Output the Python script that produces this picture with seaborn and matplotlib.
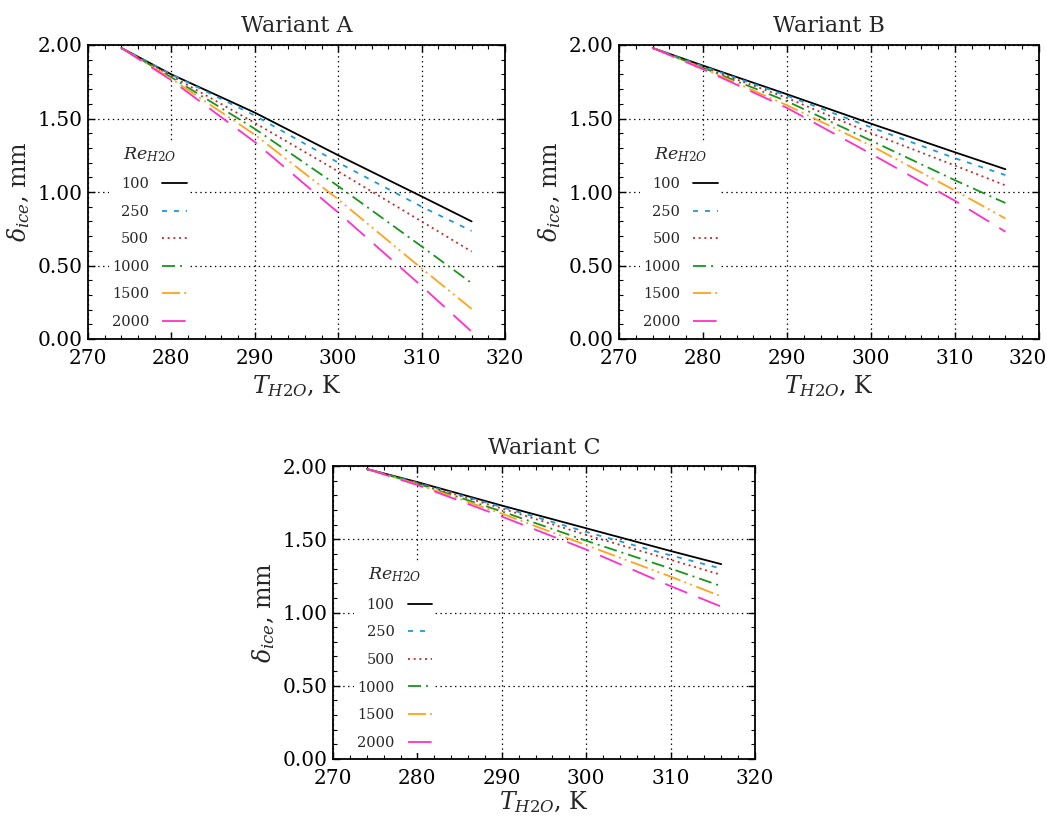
import numpy as np
import pandas as pd
import matplotlib
matplotlib.use("Agg")
import matplotlib.pyplot as plt
from matplotlib.ticker import MultipleLocator, FormatStrFormatter
from matplotlib.transforms import ScaledTranslation
import seaborn as sns

# ---------------- data ----------------
T_H2O = [274, 280, 290, 300, 310, 316]
re_levels = ["100", "250", "500", "1000", "1500", "2000"]

wariant_a = {
    "100":  [1.98, 1.80, 1.54, 1.25, 0.97, 0.80],
    "250":  [1.98, 1.80, 1.52, 1.20, 0.90, 0.735],
    "500":  [1.98, 1.79, 1.47, 1.14, 0.80, 0.595],
    "1000": [1.98, 1.78, 1.43, 1.04, 0.63, 0.38],
    "1500": [1.98, 1.77, 1.39, 0.95, 0.48, 0.205],
    "2000": [1.98, 1.76, 1.34, 0.86, 0.36, 0.05],
}
wariant_b = {
    "100":  [1.98, 1.86, 1.665, 1.465, 1.27, 1.155],
    "250":  [1.98, 1.855, 1.655, 1.44, 1.23, 1.115],
    "500":  [1.98, 1.85, 1.64, 1.40, 1.18, 1.045],
    "1000": [1.98, 1.845, 1.617, 1.35, 1.08, 0.925],
    "1500": [1.98, 1.84, 1.59, 1.315, 1.01, 0.82],
    "2000": [1.98, 1.835, 1.572, 1.26, 0.94, 0.73],
}
wariant_c = {
    "100":  [1.98, 1.89, 1.73, 1.575, 1.42, 1.33],
    "250":  [1.98, 1.885, 1.72, 1.55, 1.39, 1.30],
    "500":  [1.98, 1.885, 1.71, 1.53, 1.36, 1.257],
    "1000": [1.98, 1.88, 1.69, 1.49, 1.30, 1.18],
    "1500": [1.98, 1.875, 1.675, 1.46, 1.245, 1.11],
    "2000": [1.98, 1.87, 1.655, 1.43, 1.18, 1.04],
}
titles = ["Wariant A", "Wariant B", "Wariant C"]
x_ticks = [270, 280, 290, 300, 310, 320]
y_ticks = [0.0, 0.5, 1.0, 1.5, 2.0]

# ---------------- styles ----------------
palette = {
    "100": "#000000",
    "250": "#1f9ad6",
    "500": "#c42a2a",
    "1000": "#18951c",
    "1500": "#ffa31a",
    "2000": "#ff2fc8",
}
dashes = {
    "100": "",
    "250": (3.6, 5.0),
    "500": (1.4, 2.7),
    "1000": (9.4, 3.6, 1.4, 3.6),
    "1500": (13.0, 3.0, 1.4, 3.0, 1.4, 3.4),
    "2000": (17.0, 8.6),
}

sns.set_style("ticks")
plt.rcParams["font.family"] = ["DejaVu Serif"]
plt.rcParams["mathtext.fontset"] = "dejavuserif"
plt.rcParams["lines.scale_dashes"] = False
plt.rcParams["axes.edgecolor"] = "black"
plt.rcParams["axes.linewidth"] = 1.3

W, H = 1047, 817
fig = plt.figure(figsize=(W / 100, H / 100), dpi=100)
rects = [
    (88, 45, 417, 294),
    (619, 45, 420, 294),
    (333, 466, 422, 293),
]
xlabel_pads = [4, 4, 1]
datasets = [wariant_a, wariant_b, wariant_c]
axes = []

for (l, t, w, h), data, title, xpad in zip(rects, datasets, titles, xlabel_pads):
    ax = fig.add_axes([l / W, 1 - (t + h) / H, w / W, h / H])
    axes.append(ax)
    rows = []
    for lev in re_levels:
        for x, y in zip(T_H2O, data[lev]):
            rows.append({"T": x, "delta": y, "Re": lev})
    df = pd.DataFrame(rows)
    sns.lineplot(data=df, x="T", y="delta", hue="Re", style="Re",
                 hue_order=re_levels, style_order=re_levels,
                 palette=palette, dashes=dashes, linewidth=1.3,
                 ax=ax, legend=False, zorder=3)
    ax.set_xlim(270, 320)
    ax.set_ylim(0, 2.0)
    ax.set_xticks(x_ticks)
    ax.set_yticks(y_ticks)
    ax.yaxis.set_major_formatter(FormatStrFormatter("%.2f"))
    ax.xaxis.set_minor_locator(MultipleLocator(2))
    ax.yaxis.set_minor_locator(MultipleLocator(0.1))
    ax.tick_params(which="both", direction="in", top=True, right=True,
                   labelsize=14.5, colors="black")
    ax.tick_params(which="major", length=5, width=1.0)
    ax.tick_params(axis="x", which="major", pad=7)
    ax.tick_params(axis="y", which="major", pad=4)
    ax.tick_params(which="minor", length=3, width=0.8)
    ax.grid(True, which="major", color="black", linestyle=(0, (1, 2.5)),
            linewidth=0.9, zorder=1)
    ax.set_axisbelow(True)
    ax.set_title(title, fontsize=16, pad=9)
    ax.set_xlabel(r"$T_{\mathit{H2O}}$, K", fontsize=17, labelpad=xpad)
    ax.set_ylabel(r"$\delta_{ice}$, mm", fontsize=17, labelpad=4)

    handles = ax.get_lines()[:len(re_levels)]
    leg = ax.legend(handles, re_levels, title=r"$Re_{\mathit{H2O}}$",
                    loc="upper left", bbox_to_anchor=(0.05, 0.67),
                    frameon=True, fancybox=False, framealpha=1.0,
                    edgecolor="none", facecolor="white",
                    markerfirst=False, fontsize=10.5, title_fontsize=12.5,
                    handlelength=1.7, handletextpad=0.9, labelspacing=0.93,
                    borderpad=0.2, borderaxespad=0.0)
    leg.set_zorder(5)

# keep the last x tick label of the right-hand panel inside the figure
fig.canvas.draw()
last = axes[1].xaxis.get_major_ticks()[-1].label1
last.set_transform(last.get_transform() +
                   ScaledTranslation(-11 / 100, 0, fig.dpi_scale_trans))

fig.savefig("out.png", dpi=100)
